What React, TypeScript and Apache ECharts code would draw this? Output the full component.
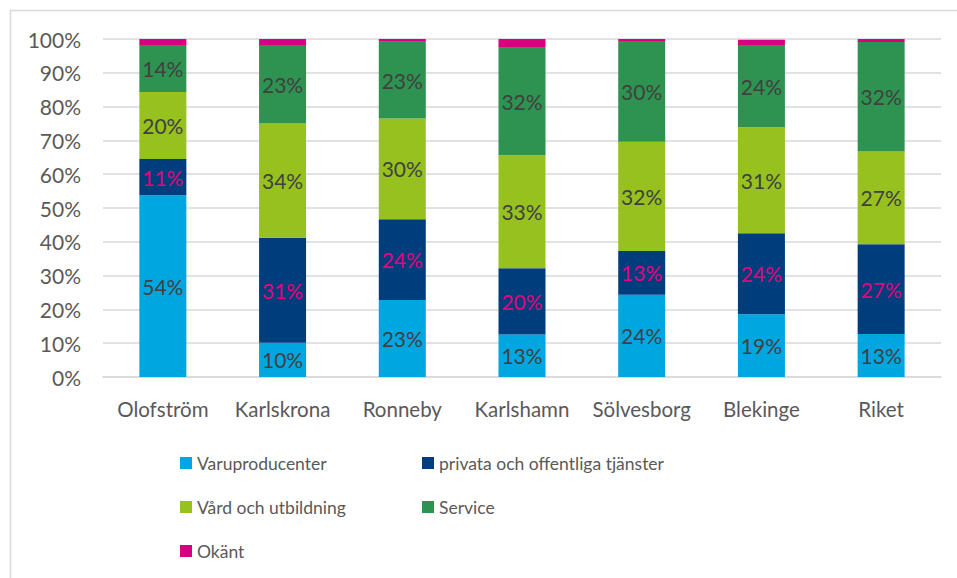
import React, { useEffect, useRef } from "react";
import * as echarts from "echarts";

const categories = ["Olofström", "Karlskrona", "Ronneby", "Karlshamn", "Sölvesborg", "Blekinge", "Riket"];
const varuproducenter = [53.8, 10.1, 22.8, 12.6, 24.3, 18.6, 12.7];
const privata = [10.7, 31.1, 23.9, 19.6, 13.0, 23.9, 26.6];
const vard = [19.8, 33.8, 29.8, 33.4, 32.3, 31.4, 27.4];
const service = [13.9, 23.2, 22.7, 31.8, 29.8, 24.3, 32.4];
const okant = [1.8, 1.8, 0.8, 2.6, 0.6, 1.6, 0.9];
const yTicks = { min: 0, max: 100, interval: 10 };

const FONT = "Lato";

export default function App() {
  const ref = useRef<HTMLDivElement>(null);
  useEffect(() => {
    if (!ref.current) return;
    const chart = echarts.init(ref.current, null, { renderer: "svg" });
    const labelBase = {
      show: true,
      position: "inside",
      fontFamily: FONT,
      fontSize: 21,
      color: "#404040",
      formatter: (p: any) => Math.round(p.value) + "%",
    };
    const mk = (name: string, data: number[], color: string, labelColor?: string, showLabel = true) => ({
      name,
      type: "bar",
      stack: "total",
      data,
      barWidth: 47,
      itemStyle: { color },
      label: { ...labelBase, show: showLabel, color: labelColor || "#404040" },
    });
    const legendBase = {
      orient: "vertical",
      top: 448,
      itemWidth: 12,
      itemHeight: 12,
      itemGap: 24,
      icon: "rect",
      textStyle: { fontFamily: FONT, fontSize: 17.5, color: "#595959", lineHeight: 20 },
    };
    chart.setOption({
      animation: false,
      textStyle: { fontFamily: FONT },
      graphic: [
        {
          type: "rect",
          shape: { x: 10.5, y: 10.5, width: 1000, height: 1000 },
          style: { fill: "none", stroke: "#d9d9d9", lineWidth: 1.5 },
          silent: true,
        },
      ],
      grid: { left: 103, right: 16, top: 39, bottom: 201, containLabel: false },
      xAxis: {
        type: "category",
        data: categories,
        axisLine: { lineStyle: { color: "#d9d9d9", width: 1.5 } },
        axisTick: { show: false },
        axisLabel: { fontFamily: FONT, fontSize: 20.5, color: "#595959", margin: 21, interval: 0 },
      },
      yAxis: {
        type: "value",
        min: yTicks.min,
        max: yTicks.max,
        interval: yTicks.interval,
        axisLine: { show: false },
        axisTick: { show: false },
        splitLine: { lineStyle: { color: "#d9d9d9", width: 1.5 } },
        axisLabel: { fontFamily: FONT, fontSize: 21, color: "#595959", margin: 22, formatter: "{value}%" },
      },
      legend: [
        { ...legendBase, data: ["Varuproducenter", "Vård och utbildning", "Okänt"], left: 175 },
        { ...legendBase, data: ["privata och offentliga tjänster", "Service"], left: 417 },
      ],
      series: [
        mk("Varuproducenter", varuproducenter, "#00a6e0"),
        mk("privata och offentliga tjänster", privata, "#003d7c", "#e6007e"),
        mk("Vård och utbildning", vard, "#97c11f"),
        mk("Service", service, "#2e9350"),
        mk("Okänt", okant, "#d9007e", undefined, false),
      ],
    });
    return () => chart.dispose();
  }, []);
  return (
    <div
      ref={ref}
      style={{ position: "fixed", left: 0, top: 0, width: 957, height: 578, background: "#fff" }}
    />
  );
}
